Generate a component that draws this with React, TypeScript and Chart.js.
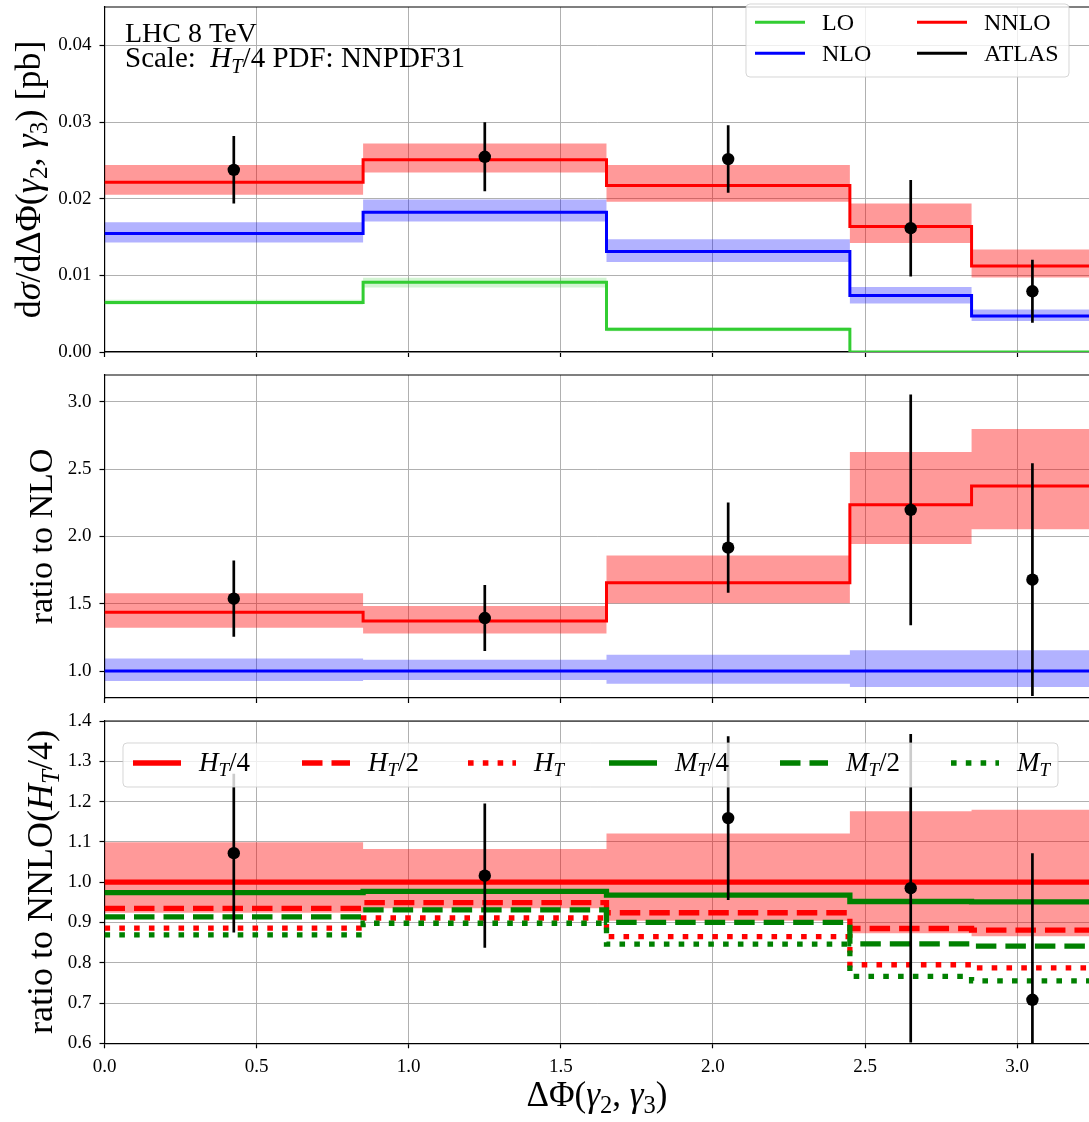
import React, { useEffect, useRef } from 'react';
import { Chart, registerables } from 'chart.js';
Chart.register(...registerables);

const FONT = '"Liberation Serif", "Times New Roman", serif';

// ---------- shared x binning ----------
const binEdges = [0, 0.85, 1.65, 2.45, 2.85, 3.25];
const binCenters = [0.425, 1.25, 2.05, 2.65, 3.05];
const xTicks = [0, 0.5, 1.0, 1.5, 2.0, 2.5, 3.0];
const X_MAX = 3.236;

// ---------- panel 1: cross section [pb] ----------
const yTicks1 = [0, 0.01, 0.02, 0.03, 0.04];
const loVals = [0.00645, 0.0091, 0.00296, 0, 0];
const loLow = [0.0062, 0.0084, 0.0027, 0, 0];
const loHigh = [0.0068, 0.0097, 0.0032, 0, 0];
const nloVals = [0.01546, 0.01824, 0.0131, 0.00736, 0.0047];
const nloLow = [0.01428, 0.01702, 0.01175, 0.00632, 0.00405];
const nloHigh = [0.01693, 0.0199, 0.01471, 0.00849, 0.00553];
const nnloVals = [0.02215, 0.02507, 0.02172, 0.01637, 0.01123];
const nnloLow = [0.0205, 0.0234, 0.0196, 0.01423, 0.00971];
const nnloHigh = [0.0244, 0.0272, 0.0244, 0.01937, 0.01337];
const atlasVals = [0.02376, 0.02546, 0.02516, 0.01615, 0.00792];
const atlasErr = [0.0044, 0.0045, 0.0044, 0.0063, 0.0041];

// ---------- panel 2: ratio to NLO ----------
const yTicks2 = [1.0, 1.5, 2.0, 2.5, 3.0];
const nnloRatio = [1.437, 1.372, 1.657, 2.235, 2.376];
const nnloRatioLow = [1.322, 1.28, 1.504, 1.945, 2.054];
const nnloRatioHigh = [1.578, 1.484, 1.858, 2.627, 2.798];
const nloRatio = [1, 1, 1, 1, 1];
const nloRatioLow = [0.926, 0.933, 0.906, 0.881, 0.881];
const nloRatioHigh = [1.094, 1.084, 1.121, 1.154, 1.154];
const atlasRatio = [1.538, 1.394, 1.917, 2.198, 1.679];
const atlasRatioErr = [0.283, 0.245, 0.335, 0.857, 0.865];

// ---------- panel 3: ratio to NNLO(HT/4) ----------
const yTicks3 = [0.6, 0.7, 0.8, 0.9, 1.0, 1.1, 1.2, 1.3, 1.4];
const ht4 = [1, 1, 1, 1, 1];
const ht4Low = [0.924, 0.935, 0.904, 0.873, 0.866];
const ht4High = [1.099, 1.082, 1.121, 1.176, 1.18];
const ht2 = [0.935, 0.949, 0.924, 0.885, 0.881];
const ht1 = [0.886, 0.911, 0.865, 0.795, 0.787];
const mt4 = [0.974, 0.977, 0.968, 0.952, 0.951];
const mt2 = [0.914, 0.931, 0.9, 0.847, 0.841];
const mt1 = [0.869, 0.898, 0.846, 0.766, 0.755];
const atlasRatio3 = [1.072, 1.016, 1.159, 0.985, 0.708];
const atlasRatio3Err = [0.197, 0.179, 0.203, 0.383, 0.364];

// ---------- colours ----------
const RED = '#ff0000';
const BLUE = '#0000ff';
const LIME = '#32cd32';
const GREEN = '#008000';
const RED_BAND = 'rgba(255,0,0,0.4)';
const BLUE_BAND = 'rgba(0,0,255,0.3)';
const LIME_BAND = 'rgba(50,205,50,0.22)';

const LW3 = 5.3;
const DASH = [20.5, 9];
const DOT = [5.6, 9.2];

// ---------- helpers ----------
function stepData(vals: number[]) {
  const pts = vals.map((v, i) => ({ x: binEdges[i], y: v }));
  pts.push({ x: binEdges[binEdges.length - 1], y: vals[vals.length - 1] });
  return pts;
}
function errData(vals: number[], err: number[]) {
  const pts: any[] = [];
  vals.forEach((v, i) => {
    pts.push({ x: binCenters[i], y: v - err[i] });
    pts.push({ x: binCenters[i], y: v + err[i] });
    pts.push({ x: binCenters[i], y: null });
  });
  return pts;
}
function stepLine(vals: number[], color: string, width: number, dash: number[] = []) {
  return {
    data: stepData(vals), borderColor: color, borderWidth: width, borderDash: dash,
    borderCapStyle: 'butt', borderJoinStyle: 'miter', pointRadius: 0, stepped: true, fill: false,
  };
}
function band(high: number[], low: number[], color: string) {
  return [
    { data: stepData(high), borderColor: 'rgba(0,0,0,0)', borderWidth: 0, pointRadius: 0, stepped: true, fill: '+1', backgroundColor: color },
    { data: stepData(low), borderColor: 'rgba(0,0,0,0)', borderWidth: 0, pointRadius: 0, stepped: true, fill: false },
  ];
}
function errBars(vals: number[], err: number[]) {
  return [
    { data: errData(vals, err), borderColor: '#000', borderWidth: 2.7, pointRadius: 0, spanGaps: false, fill: false, borderCapStyle: 'butt' },
    { data: vals.map((v, i) => ({ x: binCenters[i], y: v })), showLine: false, pointRadius: 6.2, pointBackgroundColor: '#000', pointBorderColor: '#000', pointBorderWidth: 0, fill: false },
  ];
}
function ordered(ds: any[]) {
  return ds.map((d, i) => ({ ...d, order: ds.length - i }));
}

type Seg = { t: string; it?: boolean; sub?: boolean };
function segFont(size: number, s: Seg) {
  const sz = s.sub ? size * 0.7 : size;
  return `${s.it ? 'italic ' : ''}${sz}px ${FONT}`;
}
function drawRich(ctx: CanvasRenderingContext2D, segs: Seg[], x: number, y: number, size: number, align: 'left' | 'center', rot = 0) {
  ctx.save();
  ctx.translate(x, y);
  ctx.rotate(rot);
  let w = 0;
  for (const s of segs) { ctx.font = segFont(size, s); w += ctx.measureText(s.t).width; }
  let cx = align === 'center' ? -w / 2 : 0;
  ctx.textAlign = 'left';
  ctx.textBaseline = 'alphabetic';
  ctx.fillStyle = '#000';
  for (const s of segs) {
    ctx.font = segFont(size, s);
    ctx.fillText(s.t, cx, s.sub ? size * 0.2 : 0);
    cx += ctx.measureText(s.t).width;
  }
  ctx.restore();
}
function hline(ctx: CanvasRenderingContext2D, x1: number, x2: number, y: number, color: string, width: number, dash: number[] = []) {
  ctx.save();
  ctx.strokeStyle = color; ctx.lineWidth = width; ctx.setLineDash(dash); ctx.lineCap = 'butt';
  ctx.beginPath(); ctx.moveTo(x1, y); ctx.lineTo(x2, y); ctx.stroke();
  ctx.restore();
}
function legendBox(ctx: CanvasRenderingContext2D, x: number, y: number, w: number, h: number) {
  ctx.save();
  ctx.fillStyle = 'rgba(255,255,255,0.8)';
  ctx.strokeStyle = 'rgba(204,204,204,0.8)';
  ctx.lineWidth = 1;
  ctx.beginPath();
  (ctx as any).roundRect(x, y, w, h, 4);
  ctx.fill(); ctx.stroke();
  ctx.restore();
}
function topSpine(chart: any) {
  const { ctx, chartArea: a } = chart;
  hline(ctx, a.left - 0.6, a.right, a.top, '#000', 1.2);
}

const gridOpt = { color: '#b0b0b0', lineWidth: 1, tickColor: '#000', tickLength: 5, drawTicks: true, tickWidth: 1.2 };
const borderOpt = { color: '#000', width: 1.2 };

function zeroPad(s: any) {
  s.paddingTop = 0; s.paddingBottom = 0; s.paddingLeft = 0; s.paddingRight = 0;
}

function makeScales(yMin: number, yMax: number, yTicks: number[], yDec: number, xLabels: boolean, xHeight: number) {
  return {
    x: {
      type: 'linear', min: 0, max: X_MAX, grid: gridOpt, border: borderOpt,
      afterBuildTicks: (s: any) => { s.ticks = xTicks.map((v) => ({ value: v })); },
      afterFit: (s: any) => { s.height = xHeight; zeroPad(s); },
      ticks: { display: xLabels, color: '#000', font: { family: FONT, size: 19 }, padding: 7, maxRotation: 0, autoSkip: false, callback: (v: any) => Number(v).toFixed(1) },
    },
    y: {
      type: 'linear', min: yMin, max: yMax, grid: gridOpt, border: borderOpt,
      afterBuildTicks: (s: any) => { s.ticks = yTicks.map((v) => ({ value: v })); },
      afterFit: (s: any) => { s.width = 104.5; zeroPad(s); },
      ticks: { color: '#000', font: { family: FONT, size: 19 }, padding: 8, autoSkip: false, callback: (v: any) => Number(v).toFixed(yDec) },
    },
  };
}
function baseOptions(padTop: number, scales: any) {
  return {
    responsive: false, animation: false, events: [],
    layout: { autoPadding: false, padding: { left: 0, right: 0, top: padTop, bottom: 0 } },
    plugins: { legend: { display: false }, tooltip: { enabled: false } },
    scales,
  };
}

const GAMMA_PAIR: Seg[] = [{ t: '(' }, { t: 'γ', it: true }, { t: '2', sub: true }, { t: ', ' }, { t: 'γ', it: true }, { t: '3', sub: true }, { t: ')' }];

function config1(): any {
  const datasets = ordered([
    ...band(loHigh, loLow, LIME_BAND),
    ...band(nloHigh, nloLow, BLUE_BAND),
    ...band(nnloHigh, nnloLow, RED_BAND),
    stepLine(loVals, LIME, 3),
    stepLine(nloVals, BLUE, 3),
    stepLine(nnloVals, RED, 3),
    ...errBars(atlasVals, atlasErr),
  ]);
  return {
    type: 'line',
    data: { datasets },
    options: baseOptions(7, makeScales(0, 0.045, yTicks1, 2, false, 8)),
    plugins: [{
      id: 'overlay1',
      afterDraw(chart: any) {
        const ctx = chart.ctx as CanvasRenderingContext2D;
        topSpine(chart);
        // annotation
        drawRich(ctx, [{ t: 'LHC 8 TeV' }], 125, 42, 28, 'left');
        drawRich(ctx, [{ t: 'Scale:  ' }, { t: 'H', it: true }, { t: 'T', it: true, sub: true }, { t: '/4 PDF: NNPDF31' }], 125, 67, 29, 'left');
        // legend
        legendBox(ctx, 746, 4, 323, 73);
        const rows = [22.3, 53.3];
        const entries = [
          { c: LIME, l: 'LO', x: 755, r: 0 }, { c: BLUE, l: 'NLO', x: 755, r: 1 },
          { c: RED, l: 'NNLO', x: 917, r: 0 }, { c: '#000', l: 'ATLAS', x: 917, r: 1 },
        ];
        for (const e of entries) {
          hline(ctx, e.x, e.x + 50, rows[e.r], e.c, 3);
          drawRich(ctx, [{ t: e.l }], e.x + 67, rows[e.r] + 8, 24, 'left');
        }
        // y title
        drawRich(ctx, [{ t: 'd' }, { t: 'σ', it: true }, { t: '/dΔΦ' }, ...GAMMA_PAIR, { t: ' [pb]' }], 40, 179.5, 36, 'center', -Math.PI / 2);
      },
    }],
  };
}

function config2(): any {
  const datasets = ordered([
    ...band(nloRatioHigh, nloRatioLow, BLUE_BAND),
    ...band(nnloRatioHigh, nnloRatioLow, RED_BAND),
    stepLine(nloRatio, BLUE, 3),
    stepLine(nnloRatio, RED, 3),
    ...errBars(atlasRatio, atlasRatioErr),
  ]);
  return {
    type: 'line',
    data: { datasets },
    options: baseOptions(15, makeScales(0.8, 3.2, yTicks2, 1, false, 12)),
    plugins: [{
      id: 'overlay2',
      afterDraw(chart: any) {
        const ctx = chart.ctx as CanvasRenderingContext2D;
        topSpine(chart);
        drawRich(ctx, [{ t: 'ratio to NLO' }], 52, 176.5, 34, 'center', -Math.PI / 2);
      },
    }],
  };
}

function config3(): any {
  const datasets = ordered([
    ...band(ht4High, ht4Low, RED_BAND),
    stepLine(ht4, RED, LW3),
    stepLine(ht2, RED, LW3, DASH),
    stepLine(ht1, RED, LW3, DOT),
    stepLine(mt4, GREEN, LW3),
    stepLine(mt2, GREEN, LW3, DASH),
    stepLine(mt1, GREEN, LW3, DOT),
    ...errBars(atlasRatio3, atlasRatio3Err),
  ]);
  return {
    type: 'line',
    data: { datasets },
    options: baseOptions(16, makeScales(0.6, 1.4, yTicks3, 1, true, 78.7)),
    plugins: [{
      id: 'overlay3',
      afterDraw(chart: any) {
        const ctx = chart.ctx as CanvasRenderingContext2D;
        topSpine(chart);
        legendBox(ctx, 123, 38, 935, 44);
        const ly = 58;
        const items: { x: number; c: string; d: number[]; v: string; n: string }[] = [
          { x: 133, c: RED, d: [], v: 'H', n: '/4' },
          { x: 302, c: RED, d: DASH, v: 'H', n: '/2' },
          { x: 468, c: RED, d: DOT, v: 'H', n: '' },
          { x: 609, c: GREEN, d: [], v: 'M', n: '/4' },
          { x: 780, c: GREEN, d: DASH, v: 'M', n: '/2' },
          { x: 951, c: GREEN, d: DOT, v: 'M', n: '' },
        ];
        for (const it of items) {
          hline(ctx, it.x, it.x + 48, ly, it.c, LW3, it.d);
          const segs: Seg[] = [{ t: it.v, it: true }, { t: 'T', it: true, sub: true }];
          if (it.n) segs.push({ t: it.n });
          drawRich(ctx, segs, it.x + 66, ly + 8, 27, 'left');
        }
        drawRich(ctx, [{ t: 'ratio to NNLO(' }, { t: 'H', it: true }, { t: 'T', it: true, sub: true }, { t: '/4)' }], 52, 177, 36, 'center', -Math.PI / 2);
        drawRich(ctx, [{ t: 'ΔΦ' }, ...GAMMA_PAIR], 597, 401, 35, 'center');
      },
    }],
  };
}

export default function App() {
  const r1 = useRef<HTMLCanvasElement>(null);
  const r2 = useRef<HTMLCanvasElement>(null);
  const r3 = useRef<HTMLCanvasElement>(null);
  useEffect(() => {
    const charts = [
      new Chart(r1.current!, config1()),
      new Chart(r2.current!, config2()),
      new Chart(r3.current!, config3()),
    ];
    return () => charts.forEach((c) => c.destroy());
  }, []);
  const cs: React.CSSProperties = { position: 'absolute', left: 0 };
  return (
    <div style={{ position: 'absolute', left: 0, top: 0, width: 1089, height: 1122, background: '#fff', overflow: 'hidden' }}>
      <canvas ref={r1} width={1089} height={360} style={{ ...cs, top: 0 }} />
      <canvas ref={r2} width={1089} height={350} style={{ ...cs, top: 360 }} />
      <canvas ref={r3} width={1089} height={417} style={{ ...cs, top: 705 }} />
    </div>
  );
}
